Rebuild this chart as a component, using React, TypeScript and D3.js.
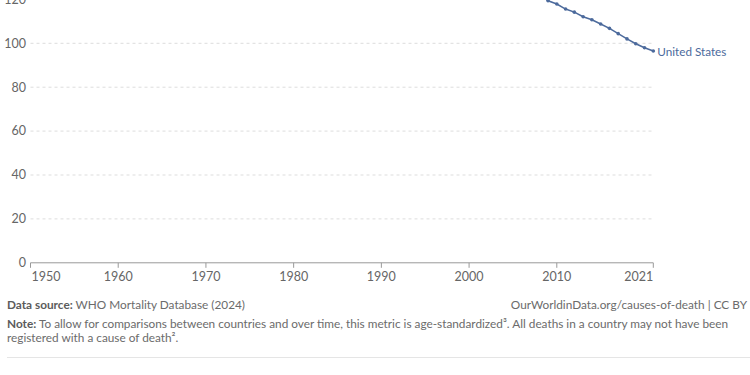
import React from "react";
import * as d3 from "d3";

const years = [2008, 2009, 2010, 2011, 2012, 2013, 2014, 2015, 2016, 2017, 2018, 2019, 2020, 2021];
const values = [122.5, 119.4, 117.9, 115.6, 114.2, 112.1, 110.7, 108.8, 106.8, 104.4, 102.0, 99.8, 98.0, 96.5];
const seriesName = "United States";
const yTicks = [0, 20, 40, 60, 80, 100, 120];
const xTicks = [1950, 1960, 1970, 1980, 1990, 2000, 2010, 2021];
const sourceLabel = "Data source:";
const sourceText = " WHO Mortality Database (2024)";
const urlText = "OurWorldinData.org/causes-of-death | CC BY";
const noteLabel = "Note:";
const noteLine1 = " To allow for comparisons between countries and over time, this metric is age-standardized³. All deaths in a country may not have been";
const noteLine2 = "registered with a cause of death².";

const W = 750;
const H = 375;
const FONT = "Lato, 'Noto Sans', sans-serif";
const LINE_COLOR = "#4C6A9C";
const FOOT = 11.8;

export default function App() {
  const x = d3.scaleLinear().domain([1950, 2021]).range([30.5, 653.3]);
  const y = d3.scaleLinear().domain([0, 100]).range([262.8, 43.3]);
  const pts = years.map((yr, i) => [x(yr), y(values[i])] as [number, number]);
  const line = d3.line<[number, number]>().x((d) => d[0]).y((d) => d[1]);
  const last = pts[pts.length - 1];

  return (
    <svg
      width={W}
      height={H}
      style={{ position: "absolute", left: 0, top: 0, background: "#fff" }}
      fontFamily={FONT}
    >
      {yTicks.map((t) => (
        <g key={t}>
          {t !== 0 && (
            <line
              x1={x(1950)}
              x2={x(2021)}
              y1={y(t)}
              y2={y(t)}
              stroke="#dddddd"
              strokeDasharray="3,3"
              strokeWidth={1}
            />
          )}
          <text x={26} y={y(t)} dy="0.35em" textAnchor="end" fontSize={12.5} fill="#666">
            {t}
          </text>
        </g>
      ))}
      <line x1={x(1950)} x2={x(2021)} y1={y(0)} y2={y(0)} stroke="#999" strokeWidth={1} />
      {xTicks.map((t, i) => (
        <g key={t}>
          <line x1={x(t)} x2={x(t)} y1={y(0)} y2={y(0) + 5} stroke="#999" strokeWidth={1} />
          <text
            x={i === 0 ? x(t) + 1 : x(t)}
            y={y(0) + 18}
            textAnchor={i === 0 ? "start" : i === xTicks.length - 1 ? "end" : "middle"}
            fontSize={12.5}
            fill="#666"
          >
            {t}
          </text>
        </g>
      ))}
      <path d={line(pts) || ""} fill="none" stroke={LINE_COLOR} strokeWidth={1.5} />
      {pts.map((p, i) => (
        <circle key={i} cx={p[0]} cy={p[1]} r={1.8} fill={LINE_COLOR} />
      ))}
      <text x={last[0] + 4} y={last[1] + 1} dy="0.35em" fontSize={11.7} fill={LINE_COLOR}>
        {seriesName}
      </text>
      <text x={7} y={308.5} fontSize={FOOT} fill="#6b6b6b">
        <tspan fontWeight={700} fill="#5b5b5b">{sourceLabel}</tspan>
        <tspan>{sourceText}</tspan>
      </text>
      <text x={747} y={308.5} fontSize={FOOT} fill="#6b6b6b" textAnchor="end">
        {urlText}
      </text>
      <text x={7} y={327.5} fontSize={FOOT} fill="#6b6b6b">
        <tspan fontWeight={700} fill="#5b5b5b">{noteLabel}</tspan>
        <tspan>{noteLine1}</tspan>
      </text>
      <text x={7} y={341.5} fontSize={FOOT} fill="#6b6b6b">
        {noteLine2}
      </text>
      <line x1={7} x2={750} y1={357.5} y2={357.5} stroke="#e5e5e5" strokeWidth={1} />
    </svg>
  );
}
